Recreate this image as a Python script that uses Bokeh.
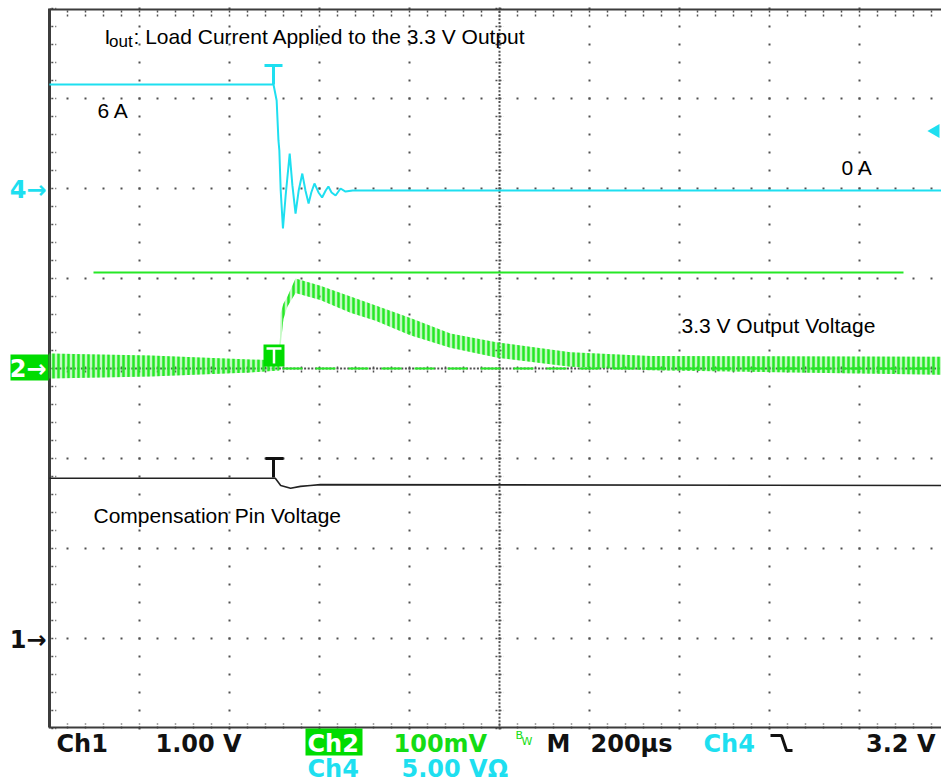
import numpy as np
from bokeh.plotting import figure
from bokeh.models import Range1d, Label
from bokeh.embed import file_html
from bokeh.resources import INLINE

# ---------------- data ----------------
# time in microseconds relative to the trigger point (200 us/div)
ch4_time = [-498, 0, 7, 11, 13, 16, 21, 27, 36, 42, 49, 56, 64, 71, 78, 84,
            91, 100, 108, 116, 122, 129, 138, 149, 160, 176, 1490]
# Ch4 (5.00 V/div) - load current probe signal, volts
ch4_volts = [5.78, 5.78, 4.89, 2.67, 2.11, -0.11, -2.22, -0.39, 1.94, 0.17,
             -1.39, -0.11, 0.83, -0.11, -0.83, -0.22, 0.28, -0.22, -0.50,
             -0.11, 0.11, -0.22, -0.39, 0.00, -0.17, -0.11, -0.11]

# Ch2 (100 mV/div, AC) - 3.3 V output, ripple envelope in mV
ch2_time = [-498, -273, -51, 13, 16, 22, 31, 49, 104, 171, 227, 304, 393,
            498, 660, 838, 1490]
ch2_upper_mv = [16.7, 14.4, 10.0, 8.9, 62, 72, 80, 100, 92, 80, 70, 56, 39,
                29, 18, 14, 13]
ch2_lower_mv = [-11.1, -8.9, -4.4, -2.2, 26, 55, 69, 84, 76, 62, 53, 37, 23,
                12, 2, -2, -7]

# Ch1 (1.00 V/div) - compensation pin voltage, volts
ch1_time = [-498, 4, 16, 38, 60, 82, 104, 1490]
ch1_volts = [1.78, 1.78, 1.70, 1.67, 1.69, 1.70, 1.71, 1.70]

# cursor on Ch2 and trigger level on Ch4
cursor_time = [-400, 1400]
cursor_mv = [106.7, 106.7]
trigger_time = [1471]
trigger_level_v = [3.2]

# channel settings (units per division) and ground positions (divisions)
CH4_SCALE, CH4_GND = 5.0, 6.0
CH2_SCALE, CH2_GND = 100.0, 4.0
CH1_SCALE, CH1_GND = 1.0, 1.0
T_PER_DIV = 200.0

# ---------------- screen geometry ----------------
W, H = 941, 783
LEFT, BOTTOM, DIV = 49, 728, 90.0
TRIG_PX = 273


def dx(xp):
    return (xp - LEFT) / DIV


def dy(yp):
    return (BOTTOM - yp) / DIV


trig_div = dx(TRIG_PX)
ymin, ymax = dy(H), dy(0)
xmin, xmax = dx(0), dx(W)

p = figure(width=W, height=H, x_range=Range1d(xmin, xmax),
           y_range=Range1d(ymin, ymax), min_border=0,
           toolbar_location=None, output_backend="svg",
           x_axis_type=None, y_axis_type=None)
p.outline_line_color = None
p.background_fill_color = "white"
p.border_fill_color = "white"

p.extra_x_ranges = {"time": Range1d((xmin - trig_div) * T_PER_DIV,
                                    (xmax - trig_div) * T_PER_DIV)}
p.extra_y_ranges = {
    "ch4": Range1d((ymin - CH4_GND) * CH4_SCALE, (ymax - CH4_GND) * CH4_SCALE),
    "ch2": Range1d((ymin - CH2_GND) * CH2_SCALE, (ymax - CH2_GND) * CH2_SCALE),
    "ch1": Range1d((ymin - CH1_GND) * CH1_SCALE, (ymax - CH1_GND) * CH1_SCALE),
}

CYAN = "#1edff0"
GREEN = "#26e826"
GREEN_BOX = "#00dc00"
GREEN_TXT = "#14dc14"
GRID = "#505050"
BORDER = "#3c3c3c"

# ---------------- graticule ----------------
minor_x = np.round(np.arange(0, 10.0001, 0.2), 4)
minor_y = np.round(np.arange(0, 8.0001, 0.2), 4)
gx_pts, gy_pts = [], []
for gy in [1, 2, 3, 5, 6, 7]:
    gx_pts += list(minor_x)
    gy_pts += [gy] * len(minor_x)
for gx in [1, 2, 3, 4, 6, 7, 8, 9]:
    gx_pts += [gx] * len(minor_y)
    gy_pts += list(minor_y)
fine_x = np.round(np.arange(0, 10.0001, 0.04), 4)
fine_y = np.round(np.arange(0, 8.0001, 0.04), 4)
gx_pts += list(fine_x)
gy_pts += [4.0] * len(fine_x)
gx_pts += [5.0] * len(fine_y)
gy_pts += list(fine_y)
p.scatter(gx_pts, gy_pts, marker="square", size=2, color=GRID, line_width=0)

# center cross tick marks
p.segment(x0=[4.955] * len(minor_y), x1=[5.045] * len(minor_y), y0=list(minor_y),
          y1=list(minor_y), color=GRID, line_width=1.5, line_dash="2 2")
p.segment(x0=list(minor_x), x1=list(minor_x), y0=[3.955] * len(minor_x),
          y1=[4.045] * len(minor_x), color=GRID, line_width=1.5, line_dash="2 2")

# border ticks
p.segment(x0=[0.02] * len(minor_y), x1=[0.075] * len(minor_y), y0=list(minor_y),
          y1=list(minor_y), color=GRID, line_width=1.5, line_dash="2 2")
p.segment(x0=list(minor_x), x1=list(minor_x), y0=[0.0] * len(minor_x),
          y1=[0.055] * len(minor_x), color=GRID, line_width=1.5, line_dash="2 2")
p.segment(x0=list(minor_x), x1=list(minor_x), y0=[dy(10)] * len(minor_x),
          y1=[dy(16)] * len(minor_x), color=GRID, line_width=1.5, line_dash="2 2")

# border lines
p.segment(x0=[0.0], x1=[0.0], y0=[dy(727)], y1=[dy(8)], color=BORDER, line_width=3)
p.segment(x0=[0.0], x1=[10.2], y0=[dy(9)], y1=[dy(9)], color=BORDER, line_width=2)
p.segment(x0=[0.0], x1=[10.2], y0=[dy(727)], y1=[dy(727)], color=BORDER, line_width=2)

# ---------------- traces ----------------
# Ch2 ground reference (dashed) and cursor
p.line([20, 1490], [0, 0], x_range_name="time", y_range_name="ch2",
       color=GREEN, line_width=2, line_dash="20 13")
p.line(cursor_time, cursor_mv, x_range_name="time", y_range_name="ch2",
       color=GREEN, line_width=2)

# Ch2 ripple band
p.varea(x=ch2_time, y1=ch2_lower_mv, y2=ch2_upper_mv, x_range_name="time",
        y_range_name="ch2", fill_color=GREEN, fill_alpha=0.28,
        hatch_pattern="|", hatch_color=GREEN, hatch_scale=5, hatch_weight=2.5)

# Ch1
p.line(ch1_time, ch1_volts, x_range_name="time", y_range_name="ch1",
       color="#222222", line_width=1.6)

# Ch4
p.line(ch4_time, ch4_volts, x_range_name="time", y_range_name="ch4",
       color=CYAN, line_width=2)

# trigger level marker
p.scatter(trigger_time, trigger_level_v, x_range_name="time", y_range_name="ch4",
          marker="triangle", size=14, angle=np.pi / 2, color=CYAN, line_width=0)

# trigger "T" markers
p.segment(x0=[dx(264), dx(273)], x1=[dx(282), dx(273)], y0=[dy(65), dy(65)],
          y1=[dy(65), dy(84)], color=CYAN, line_width=3)
p.segment(x0=[dx(265), dx(273)], x1=[dx(283), dx(273)], y0=[dy(458), dy(458)],
          y1=[dy(458), dy(477)], color="#111111", line_width=3)
p.quad(left=[dx(263)], right=[dx(284)], top=[dy(344)], bottom=[dy(366)],
       fill_color=GREEN_BOX, line_color=None)
p.segment(x0=[dx(266), dx(273.5)], x1=[dx(281), dx(273.5)], y0=[dy(348), dy(348)],
          y1=[dy(348), dy(363)], color="white", line_width=2.5)

# channel ground boxes
p.quad(left=[dx(10)], right=[dx(48)], top=[dy(354)], bottom=[dy(380)],
       fill_color=GREEN_BOX, line_color=None)
p.quad(left=[dx(305)], right=[dx(362)], top=[dy(728)], bottom=[dy(755)],
       fill_color=GREEN_BOX, line_color=None)

# falling-edge slope symbol
p.line([dx(770), dx(781), dx(786), dx(792)], [dy(735), dy(735), dy(750), dy(750)],
       color="#111111", line_width=3)

BASE_SHIFT = 7  # alphabetic labels render slightly low; compensate


def lab(xp, yp, text, size, color, font="Liberation Sans", bold=False,
        align="left", baseline="alphabetic"):
    if baseline == "alphabetic":
        yp = yp - BASE_SHIFT
    p.add_layout(Label(x=dx(xp), y=dy(yp), text=text, text_font=font,
                       text_font_size=f"{size}px", text_color=color,
                       text_font_style="bold" if bold else "normal",
                       text_align=align, text_baseline=baseline))


# annotations
lab(104, 43, "I", 21, "black")
lab(108.5, 48, "out", 17, "black")
lab(133, 43, ": Load Current Applied to the 3.3 V Output", 21, "black")
lab(97, 117, "6 A", 21, "black")
lab(841, 174, "0 A", 21, "black")
lab(681, 332, "3.3 V Output Voltage", 21, "black")
lab(93, 522, "Compensation Pin Voltage", 21, "black")

# channel markers
MONO = "DejaVu Sans"
lab(46, 189, "4\u2192", 24, CYAN, MONO, True, "right", "middle")
lab(46, 368, "2\u2192", 24, "white", MONO, True, "right", "middle")
lab(46, 639, "1\u2192", 24, "#111111", MONO, True, "right", "middle")

# status line
lab(56, 750, "Ch1", 24, "#111111", MONO, True)
lab(155, 750, "1.00 V", 24, "#111111", MONO, True)
lab(307, 750, "Ch2", 24, "white", MONO, True)
lab(393, 750, "100mV", 24, GREEN_TXT, MONO, True)
lab(515, 742, "B", 11, GREEN_TXT, MONO)
lab(521, 748, "W", 11, GREEN_TXT, MONO)
lab(546, 750, "M", 24, "#111111", MONO, True)
lab(590, 750, "200\u00b5s", 24, "#111111", MONO, True)
lab(703, 750, "Ch4", 24, CYAN, MONO, True)
lab(935, 750, "3.2 V", 24, "#111111", MONO, True, "right")
lab(307, 775, "Ch4", 24, CYAN, MONO, True)
lab(401, 775, "5.00 V\u03a9", 24, CYAN, MONO, True)

open("out.html", "w").write(file_html(p, INLINE))
